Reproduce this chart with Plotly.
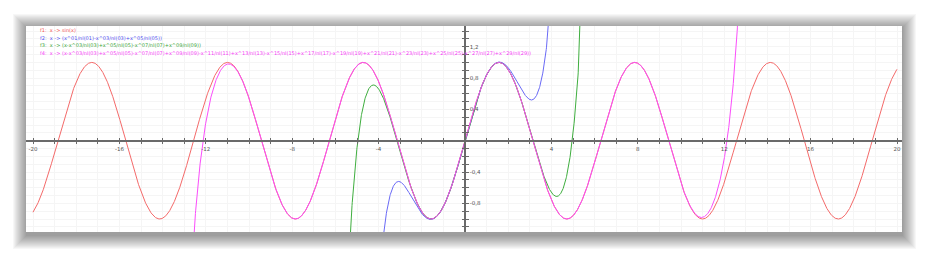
import numpy as np
import plotly.graph_objects as go

# ---- data (function definitions as shown in the chart's legend) ----
x_start, x_end, x_step = -20.0, 20.0, 0.01
f2_exponents = [1, 3, 5]
f3_exponents = [1, 3, 5, 7, 9]
f4_exponents = [1, 3, 5, 7, 9, 11, 13, 15, 17, 19, 21, 23, 25, 27, 29]
labels = [
    "f1:  x -> sin(x)",
    "f2:  x -> (x^01/nl(01)-x^03/nl(03)+x^05/nl(05))",
    "f3:  x -> (x-x^03/nl(03)+x^05/nl(05)-x^07/nl(07)+x^09/nl(09))",
    "f4:  x -> (x-x^03/nl(03)+x^05/nl(05)-x^07/nl(07)+x^09/nl(09)-x^11/nl(11)+x^13/nl(13)"
    "-x^15/nl(15)+x^17/nl(17)-x^19/nl(19)+x^21/nl(21)-x^23/nl(23)+x^25/nl(25)-x^27/nl(27)+x^29/nl(29))",
]
x_tick_vals = [-20, -16, -12, -8, -4, 4, 8, 12, 16, 20]
x_tick_text = ["-20", "-16", "-12", "-8", "-4", "4", "8", "12", "16", "20"]
y_tick_vals = [-0.8, -0.4, 0.4, 0.8, 1.2]
y_tick_text = ["-0,8", "-0,4", "0,4", "0,8", "1,2"]

colors = ["#f46a6a", "#6a6af6", "#3fae3f", "#fb4dfb"]
text_colors = ["#f25a5a", "#5050f0", "#3aa63a", "#f63cf6"]

xs = np.arange(x_start, x_end + x_step / 2, x_step)


def taylor(x, exps):
    total = np.zeros_like(x)
    for e in exps:
        sign = -1.0 if (e // 2) % 2 else 1.0
        fact = float(np.prod(np.arange(1, e + 1, dtype=float)))
        total += sign * x ** e / fact
    return total


series = [np.sin(xs), taylor(xs, f2_exponents), taylor(xs, f3_exponents), taylor(xs, f4_exponents)]
series = [np.clip(s, -50, 50) for s in series]

# ---- layout geometry ----
W, H = 928, 258
px_l, px_r, px_t, px_b = 26, 902, 26, 232
xr = [-20.324, 20.231]
yr = [-1.166, 1.465]
xdom = [px_l / W, px_r / W]
ydom = [1 - px_b / H, 1 - px_t / H]
ypos0 = ydom[0] + (0 - yr[0]) / (yr[1] - yr[0]) * (ydom[1] - ydom[0])
xpos0 = xdom[0] + (0 - xr[0]) / (xr[1] - xr[0]) * (xdom[1] - xdom[0])

fig = go.Figure()
for i in range(4):
    fig.add_trace(go.Scatter(x=xs, y=series[i], mode="lines",
                             line=dict(color=colors[i], width=1), showlegend=False,
                             hoverinfo="skip"))

# shadow + panel
shapes = []
n = 14
for k in range(n, 0, -1):
    s = k
    shapes.append(dict(type="rect", xref="paper", yref="paper", layer="below",
                       x0=(px_l - s + 1) / W, x1=(px_r + s) / W,
                       y0=1 - (px_b + s + 3) / H, y1=1 - (px_t - s + 2) / H,
                       line=dict(width=0), fillcolor="rgba(0,0,0,0.032)"))
shapes.append(dict(type="rect", xref="paper", yref="paper", layer="below",
                   x0=px_l / W, x1=px_r / W, y0=1 - px_b / H, y1=1 - px_t / H,
                   line=dict(width=0), fillcolor="white"))

annotations = []
label_y = [30, 37.7, 45.2, 52.7]
for i, t in enumerate(labels):
    annotations.append(dict(text=t, xref="paper", yref="paper", x=38 / W, y=1 - label_y[i] / H,
                            xanchor="left", yanchor="middle", showarrow=False,
                            font=dict(size=5.0, color=text_colors[i], family="DejaVu Sans")))

axis_color = "#6a6a6a"
tick_font = dict(size=5.5, color="#555555", family="DejaVu Sans")
grid_color = "#f5f5f5"

fig.update_layout(
    width=W, height=H, margin=dict(l=0, r=0, t=0, b=0),
    paper_bgcolor="white", plot_bgcolor="white",
    shapes=shapes, annotations=annotations, showlegend=False,
    xaxis=dict(domain=xdom, range=xr, anchor="free", position=ypos0,
               showline=True, linecolor=axis_color, linewidth=1.5,
               tickmode="array", tickvals=x_tick_vals, ticktext=x_tick_text,
               ticks="outside", ticklen=3, tickwidth=1, tickcolor=axis_color,
               tickfont=tick_font, showgrid=False, zeroline=False,
               minor=dict(dtick=1, tick0=0, ticks="outside", ticklen=3, tickcolor=axis_color,
                          showgrid=True, gridcolor=grid_color, gridwidth=1)),
    xaxis2=dict(domain=xdom, range=xr, anchor="free", position=ypos0, overlaying="x",
                showline=False, showticklabels=False, showgrid=False, zeroline=False,
                tickmode="linear", dtick=1, tick0=0, ticks="inside", ticklen=3,
                tickcolor=axis_color, tickwidth=1),
    yaxis=dict(domain=ydom, range=yr, anchor="free", position=xpos0, side="right",
               showline=True, linecolor=axis_color, linewidth=1.5,
               tickmode="array", tickvals=y_tick_vals, ticktext=y_tick_text,
               ticks="outside", ticklen=3, tickwidth=1, tickcolor=axis_color,
               tickfont=tick_font, showgrid=False, zeroline=False,
               minor=dict(dtick=0.1, tick0=0, ticks="outside", ticklen=3, tickcolor=axis_color,
                          showgrid=True, gridcolor=grid_color, gridwidth=1)),
    yaxis2=dict(domain=ydom, range=yr, anchor="free", position=xpos0, overlaying="y", side="right",
                showline=False, showticklabels=False, showgrid=False, zeroline=False,
                tickmode="linear", dtick=0.1, tick0=0, ticks="inside", ticklen=3,
                tickcolor=axis_color, tickwidth=1),
)

# invisible trace to activate overlay axes
fig.add_trace(go.Scatter(x=[xr[0]], y=[yr[0]], xaxis="x2", yaxis="y2", mode="markers",
                         marker=dict(opacity=0), showlegend=False, hoverinfo="skip"))

fig.write_html("out.html")
